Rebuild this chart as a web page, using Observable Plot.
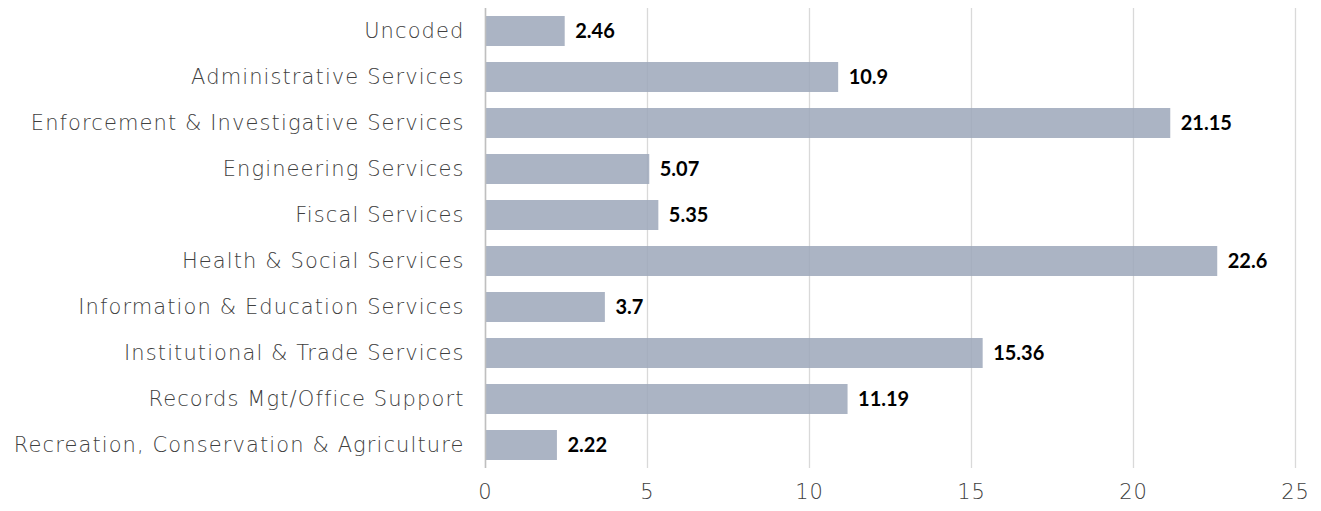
<!DOCTYPE html>
<html><head><meta charset="utf-8">
<script src="https://cdn.jsdelivr.net/npm/d3@7"></script>
<script src="https://cdn.jsdelivr.net/npm/@observablehq/plot@0.6"></script>
<style>
body{margin:0;background:#fff;}
g[aria-label="y-axis tick label"] text{letter-spacing:1.1px;}
g[aria-label="x-axis tick label"] text{letter-spacing:1px;}
</style>
</head><body><div id="chart"></div>
<script>
const categories = ["Uncoded","Administrative Services","Enforcement & Investigative Services","Engineering Services","Fiscal Services","Health & Social Services","Information & Education Services","Institutional & Trade Services","Records Mgt/Office Support","Recreation, Conservation & Agriculture"];
const values = [2.46,10.9,21.15,5.07,5.35,22.6,3.7,15.36,11.19,2.22];
const xTicks = [0,5,10,15,20,25];
const data = categories.map((c,i)=>({category:c,value:values[i]}));

const chart = Plot.plot({
  width:1321, height:511,
  marginLeft:485, marginRight:26, marginTop:8, marginBottom:43,
  style:{fontFamily:"'DejaVu Sans', sans-serif", background:"#fff"},
  x:{domain:[0,25], ticks:xTicks, label:null},
  y:{domain:categories, paddingInner:0.34, paddingOuter:0.17, label:null},
  marks:[
    Plot.gridX(xTicks,{stroke:"#d9d9d9", strokeOpacity:1, strokeWidth:1.3}),
    Plot.barX(data,{x:"value", y:"category", fill:"#9ca7ba", fillOpacity:0.85}),
    Plot.ruleX([0],{stroke:"#bfbfbf", strokeWidth:1.5}),
    Plot.text(data,{x:"value", y:"category", text:d=>String(d.value), textAnchor:"start", dx:10, fontSize:20, fontWeight:"bold", fill:"#000", fontFamily:"Lato, sans-serif"}),
    Plot.axisX(xTicks,{tickSize:0, tickPadding:16, fontSize:21, fill:"#404040", label:null, tickFormat:d=>String(d), fontWeight:300}),
    Plot.axisY({tickSize:0, tickPadding:21, fontSize:21, fill:"#404040", label:null, fontWeight:300})
  ]
});
document.getElementById("chart").appendChild(chart);
</script>
</body></html>
